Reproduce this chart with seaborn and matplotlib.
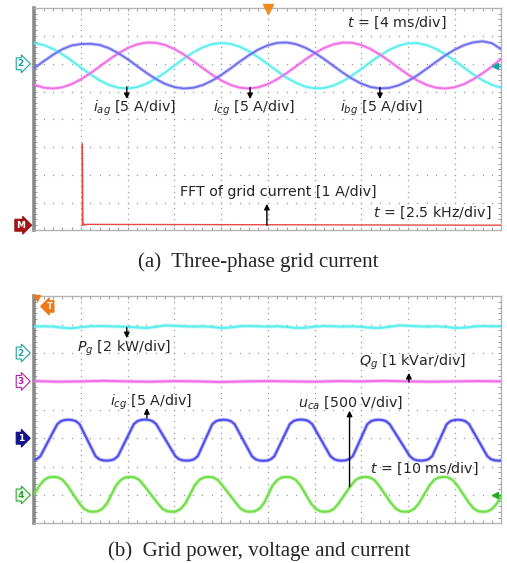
import numpy as np
import matplotlib
matplotlib.use("Agg")
import matplotlib.pyplot as plt
import seaborn as sns

# ======================= DATA =======================
# ---- panel (a): three-phase grid currents, 4 ms/div, 5 A/div ----
time_a_ms = np.round(np.arange(51) * 0.8, 2)          # sample times, 0 .. 40 ms
i_ag = [3.72, 3.38, 2.69, 1.72, 0.55, -0.69, -1.91, -2.99, -3.81, -4.31,
        -4.45, -4.20, -3.59, -2.68, -1.56, -0.32, 0.92, 2.04, 2.93, 3.52,
        3.75, 3.59, 3.07, 2.24, 1.15, -0.06, -1.31, -2.47, -3.43, -4.10,
        -4.43, -4.37, -3.94, -3.17, -2.14, -0.95, 0.31, 1.49, 2.51, 3.26,
        3.68, 3.72, 3.38, 2.69, 1.72, 0.56, -0.69, -1.90, -2.97, -3.81, -4.31]
i_cg = [-3.79, -4.30, -4.45, -4.23, -3.65, -2.79, -1.70, -0.49, 0.75, 1.88,
        2.83, 3.49, 3.82, 3.78, 3.39, 2.65, 1.67, 0.50, -0.74, -1.93,
        -2.98, -3.80, -4.30, -4.45, -4.23, -3.66, -2.79, -1.70, -0.49, 0.75,
        1.88, 2.82, 3.49, 3.82, 3.78, 3.39, 2.65, 1.67, 0.50, -0.74,
        -1.93, -2.98, -3.80, -4.30, -4.45, -4.23, -3.66, -2.79, -1.70, -0.49, 0.90]
i_bg = [-0.78, 0.46, 1.62, 2.62, 3.30, 3.55, 3.60, 3.40, 2.80, 1.90,
        0.82, -0.41, -1.63, -2.73, -3.61, -4.20, -4.45, -4.33, -3.85, -3.06,
        -2.03, -0.85, 0.40, 1.57, 2.57, 3.33, 3.76, 3.84, 3.55, 2.91,
        2.00, 0.88, -0.34, -1.56, -2.67, -3.57, -4.18, -4.44, -4.34, -3.88,
        -3.11, -2.09, -0.91, 0.33, 1.51, 2.53, 3.35, 3.85, 4.05, 3.70, 2.60]
# FFT of grid current, 2.5 kHz/div, 1 A/div
fft_freq_khz = [2.57, 2.57, 2.60, 2.66, 2.72, 2.80, 25.0]
fft_mag_a = [0.0, 2.93, 0.0, 0.05, 0.0, 0.03, 0.0]

# ---- panel (b): grid power, voltage and current, 10 ms/div ----
time_p_ms = np.arange(51) * 2.0                        # 0 .. 100 ms
p_g_kw = [1.86, 1.88, 1.86, 1.78, 1.74, 1.82, 1.88, 1.90, 1.88, 1.86,
          1.84, 1.80, 1.76, 1.84, 1.94, 1.92, 1.88, 1.86, 1.88, 1.84,
          1.76, 1.80, 1.88, 1.90, 1.88, 1.86, 1.88, 1.84, 1.76, 1.78,
          1.86, 1.90, 1.88, 1.86, 1.88, 1.84, 1.78, 1.76, 1.84, 1.94,
          1.92, 1.88, 1.86, 1.88, 1.84, 1.76, 1.78, 1.86, 1.90, 1.88, 1.88]
time_q_ms = np.arange(21) * 5.0
q_g_kvar = [0.01, -0.01, 0.00, 0.02, 0.00, -0.01, 0.01, 0.00, -0.02, 0.00,
            0.01, 0.00, -0.01, 0.01, 0.00, 0.02, 0.00, -0.01, 0.00, 0.01, 0.00]

i_cg_b_ms = [0.0, 0.5, 1.3,
             4.9, 5.7, 6.5, 7.3, 8.1, 8.9, 9.7,
             13.1, 13.9, 14.7, 15.5, 16.3, 17.1, 17.9,
             21.3, 22.1, 22.9, 23.7, 24.5, 25.3, 26.1,
             30.2, 31.0, 31.8, 32.6, 33.4, 34.2, 35.0,
             38.1, 38.9, 39.7, 40.5, 41.3, 42.1, 42.9,
             46.6, 47.4, 48.2, 49.0, 49.8, 50.6, 51.4,
             54.7, 55.5, 56.3, 57.1, 57.9, 58.7, 59.5,
             63.4, 64.2, 65.0, 65.8, 66.6, 67.4, 68.2,
             71.3, 72.1, 72.9, 73.7, 74.5, 75.3, 76.1,
             80.4, 81.2, 82.0, 82.8, 83.6, 84.4, 85.2,
             88.3, 89.1, 89.9, 90.7, 91.5, 92.3, 93.1,
             97.0, 97.8, 98.6, 99.4, 100.0]
i_cg_b = [-3.83, -3.70, -3.16,
          2.46, 3.00, 3.20, 3.25, 3.20, 3.00, 2.46,
          -3.16, -3.70, -3.90, -3.95, -3.90, -3.70, -3.16,
          2.48, 3.02, 3.22, 3.28, 3.22, 3.02, 2.48,
          -3.16, -3.70, -3.90, -3.95, -3.90, -3.70, -3.16,
          2.46, 3.00, 3.20, 3.25, 3.20, 3.00, 2.46,
          -3.18, -3.72, -3.93, -3.98, -3.93, -3.72, -3.18,
          2.48, 3.02, 3.22, 3.28, 3.22, 3.02, 2.48,
          -3.16, -3.70, -3.90, -3.95, -3.90, -3.70, -3.16,
          2.46, 3.00, 3.20, 3.25, 3.20, 3.00, 2.46,
          -3.16, -3.70, -3.90, -3.95, -3.90, -3.70, -3.16,
          2.46, 3.00, 3.20, 3.25, 3.20, 3.00, 2.46,
          -3.16, -3.70, -3.90, -3.95, -3.92]

u_ca_ms = [0.0,
           1.1, 2.1, 3.1, 4.1, 5.1, 6.1, 7.1, 8.35,
           9.6, 10.6, 11.6, 12.6, 13.6, 14.6, 15.6, 16.55,
           17.5, 18.5, 19.5, 20.5, 21.5, 22.5, 23.5, 24.95,
           26.4, 27.4, 28.4, 29.4, 30.4, 31.4, 32.4, 33.35,
           34.3, 35.3, 36.3, 37.3, 38.3, 39.3, 40.3, 41.75,
           43.2, 44.2, 45.2, 46.2, 47.2, 48.2, 49.2, 50.1,
           51.0, 52.0, 53.0, 54.0, 55.0, 56.0, 57.0, 58.1,
           59.2, 60.2, 61.2, 62.2, 63.2, 64.2, 65.2, 66.5,
           67.8, 68.8, 69.8, 70.8, 71.8, 72.8, 73.8, 75.1,
           76.4, 77.4, 78.4, 79.4, 80.4, 81.4, 82.4, 83.5,
           84.6, 85.6, 86.6, 87.6, 88.6, 89.6, 90.6, 91.85,
           93.1, 94.1, 95.1, 96.1, 97.1, 98.1, 99.1,
           100.0]
u_ca_v = [15,
          166, 264, 310, 319, 310, 264, 166, 12,
          -142, -240, -286, -295, -286, -240, -142, 12,
          166, 264, 310, 319, 310, 264, 166, 12,
          -142, -240, -286, -295, -286, -240, -142, 12,
          166, 264, 310, 319, 310, 264, 166, 12,
          -142, -240, -286, -295, -286, -240, -142, 12,
          166, 264, 310, 319, 310, 264, 166, 12,
          -142, -240, -286, -295, -286, -240, -142, 12,
          166, 264, 310, 319, 310, 264, 166, 12,
          -142, -240, -286, -295, -286, -240, -142, 12,
          166, 264, 310, 319, 310, 264, 166, 12,
          -142, -240, -286, -295, -286, -240, -142,
          -15]

# ======================= STYLE =======================
sns.set_style("white")
plt.rcParams["font.family"] = ["DejaVu Sans"]
plt.rcParams["mathtext.fontset"] = "dejavusans"

C_CYAN = "#5cefef"
C_MAG = "#f06ee6"
C_BLUE_A = "#6e6ef0"
C_BLUE_B = "#4f4fee"
C_GREEN = "#6fe046"
C_RED = "#e84848"
C_GRID = "#9a9a9a"
FS = 10.3

fig = plt.figure(figsize=(5.07, 5.63), dpi=100)
ax_a = fig.add_axes([0.0677, 0.5906, 0.9211, 0.3948])
ax_b = fig.add_axes([0.0677, 0.0703, 0.9211, 0.4036])


def scope(ax):
    ax.set_xlim(0, 10)
    ax.set_ylim(-4, 4)
    ax.set_facecolor("white")
    gx = np.arange(0, 10.001, 0.2)
    gy = np.arange(-4, 4.001, 0.2)
    for yy in range(-3, 4):
        ax.plot(gx, np.full_like(gx, yy), ls="none", marker="s", ms=0.9,
                mew=0, color=C_GRID, zorder=0)
    for xx in range(1, 10):
        ax.plot(np.full_like(gy, xx), gy, ls="none", marker="s", ms=0.9,
                mew=0, color=C_GRID, zorder=0)
    ax.set_xticks(range(11))
    ax.set_yticks(range(-4, 5))
    ax.set_xticks(gx, minor=True)
    ax.set_yticks(gy, minor=True)
    ax.tick_params(which="both", direction="in", top=True, right=True,
                   bottom=True, left=True, length=2.5, width=0.6,
                   color="#8c8c8c", labelbottom=False, labelleft=False)
    for s in ("top", "right", "bottom"):
        ax.spines[s].set_color("#b4b4b4")
        ax.spines[s].set_linewidth(1.0)
    ax.spines["left"].set_color("#8a8a8a")
    ax.spines["left"].set_linewidth(2.6)
    ax.set_xlabel("")
    ax.set_ylabel("")


def trace(ax, x, y, color, lw):
    sns.lineplot(x=x, y=y, ax=ax, color=color, linewidth=lw + 1.3, alpha=0.35,
                 estimator=None, sort=False, legend=False, zorder=3)
    sns.lineplot(x=x, y=y, ax=ax, color=color, linewidth=lw,
                 estimator=None, sort=False, legend=False, zorder=4)


def ch_marker(ax, y, label, ec, fc, tc):
    ax.text(-0.29, y, label, ha="center", va="center", fontsize=6.5,
            color=tc, fontweight="bold", clip_on=False, zorder=10,
            bbox=dict(boxstyle="rarrow,pad=0.16", fc=fc, ec=ec, lw=0.8))


def arrow(ax, x, y_tail, y_head):
    ax.annotate("", xy=(x, y_head), xytext=(x, y_tail),
                arrowprops=dict(arrowstyle="-|>", color="black", lw=1.0,
                                mutation_scale=8, shrinkA=0, shrinkB=0),
                zorder=8)


# ----------------------- panel (a) -----------------------
scope(ax_a)
OFF_A, SC_A = 2.0, 5.0          # channel-2 offset (div), A/div
xa = np.asarray(time_a_ms) / 4.0
trace(ax_a, xa, OFF_A + np.asarray(i_ag) / SC_A, C_CYAN, 1.3)
trace(ax_a, xa, OFF_A + np.asarray(i_cg) / SC_A, C_MAG, 1.3)
trace(ax_a, xa, OFF_A + np.asarray(i_bg) / SC_A, C_BLUE_A, 1.3)
OFF_M = -3.81
sns.lineplot(x=np.asarray(fft_freq_khz) / 2.5, y=OFF_M + np.asarray(fft_mag_a),
             ax=ax_a, color=C_RED, linewidth=1.0, estimator=None, sort=False,
             legend=False, zorder=4)

ax_a.text(6.70, 3.47, r"$t$ = [4 ms/div]", fontsize=FS, va="center")
ax_a.text(1.26, 0.41, r"$i_{ag}$ [5 A/div]", fontsize=FS, va="center")
ax_a.text(3.82, 0.41, r"$i_{cg}$ [5 A/div]", fontsize=FS, va="center")
ax_a.text(6.55, 0.41, r"$i_{bg}$ [5 A/div]", fontsize=FS, va="center")
ax_a.text(3.12, -2.61, "FFT of grid current [1 A/div]", fontsize=FS, va="center")
ax_a.text(7.25, -3.37, r"$t$ = [2.5 kHz/div]", fontsize=FS, va="center")
arrow(ax_a, 1.98, 1.17, 0.73)
arrow(ax_a, 4.62, 1.15, 0.73)
arrow(ax_a, 7.40, 1.15, 0.73)
arrow(ax_a, 4.98, -3.81, -3.04)

ch_marker(ax_a, 2.0, "2", "#1aa3a3", "white", "#1aa3a3")
ch_marker(ax_a, OFF_M, "M", "#9a1212", "#a51515", "white")
ax_a.plot([5.0], [3.97], marker="v", ms=7, color="#f08a1a", clip_on=False, zorder=9)
ax_a.plot([9.86], [1.93], marker="<", ms=5, color="#1aa3a3", clip_on=False, zorder=9)
ax_a.plot([9.86, 10.0], [1.93, 1.93], color="#1aa3a3", lw=1, zorder=9)

# ----------------------- panel (b) -----------------------
scope(ax_b)
OFF_P, SC_P = 2.0, 2.0          # kW/div
OFF_Q, SC_Q = 1.0, 1.0          # kVar/div
OFF_I, SC_I = -1.0, 5.0         # A/div
OFF_U, SC_U = -3.0, 500.0       # V/div
trace(ax_b, np.asarray(time_p_ms) / 10.0, OFF_P + np.asarray(p_g_kw) / SC_P, C_CYAN, 1.5)
trace(ax_b, np.asarray(time_q_ms) / 10.0, OFF_Q + np.asarray(q_g_kvar) / SC_Q, C_MAG, 1.5)
trace(ax_b, np.asarray(i_cg_b_ms) / 10.0, OFF_I + np.asarray(i_cg_b) / SC_I, C_BLUE_B, 1.5)
trace(ax_b, np.asarray(u_ca_ms) / 10.0, OFF_U + np.asarray(u_ca_v) / SC_U, C_GREEN, 1.5)

ax_b.text(0.91, 2.18, r"$P_g$ [2 kW/div]", fontsize=FS, va="center")
ax_b.text(6.95, 1.66, r"$Q_g$ [1 kVar/div]", fontsize=FS, va="center")
ax_b.text(1.62, 0.25, r"$i_{cg}$ [5 A/div]", fontsize=FS, va="center")
ax_b.text(5.65, 0.25, r"$u_{ca}$ [500 V/div]", fontsize=FS, va="center")
ax_b.text(7.19, -2.08, r"$t$ = [10 ms/div]", fontsize=FS, va="center")
arrow(ax_b, 1.98, 2.89, 2.52)
arrow(ax_b, 8.02, 0.98, 1.30)
arrow(ax_b, 2.41, -0.29, 0.06)
arrow(ax_b, 6.75, -2.71, -0.03)

ch_marker(ax_b, OFF_P, "2", "#1aa3a3", "white", "#1aa3a3")
ch_marker(ax_b, OFF_Q, "3", "#b020b0", "white", "#b020b0")
ch_marker(ax_b, OFF_I, "1", "#12128a", "#14148c", "white")
ch_marker(ax_b, OFF_U, "4", "#22aa22", "white", "#22aa22")
ax_b.text(0.33, 3.64, "T", ha="center", va="center", fontsize=6, color="white",
          fontweight="bold", zorder=10,
          bbox=dict(boxstyle="larrow,pad=0.15", fc="#f07818", ec="#f07818", lw=0.8))
ax_b.plot([0.05], [3.94], marker="v", ms=4, color="#f07818", clip_on=False, zorder=9)
ax_b.plot([9.86], [-3.0], marker="<", ms=5, color="#22aa22", clip_on=False, zorder=9)
ax_b.plot([9.86, 10.0], [-3.0, -3.0], color="#22aa22", lw=1, zorder=9)

# ----------------------- captions -----------------------
fig.text(0.509, 0.5263, "(a)  Three-phase grid current", ha="center", va="baseline",
         fontsize=15, family="Liberation Serif")
fig.text(0.511, 0.0133, "(b)  Grid power, voltage and current", ha="center",
         va="baseline", fontsize=15, family="Liberation Serif")

fig.savefig("out.png", dpi=100, facecolor="white")
